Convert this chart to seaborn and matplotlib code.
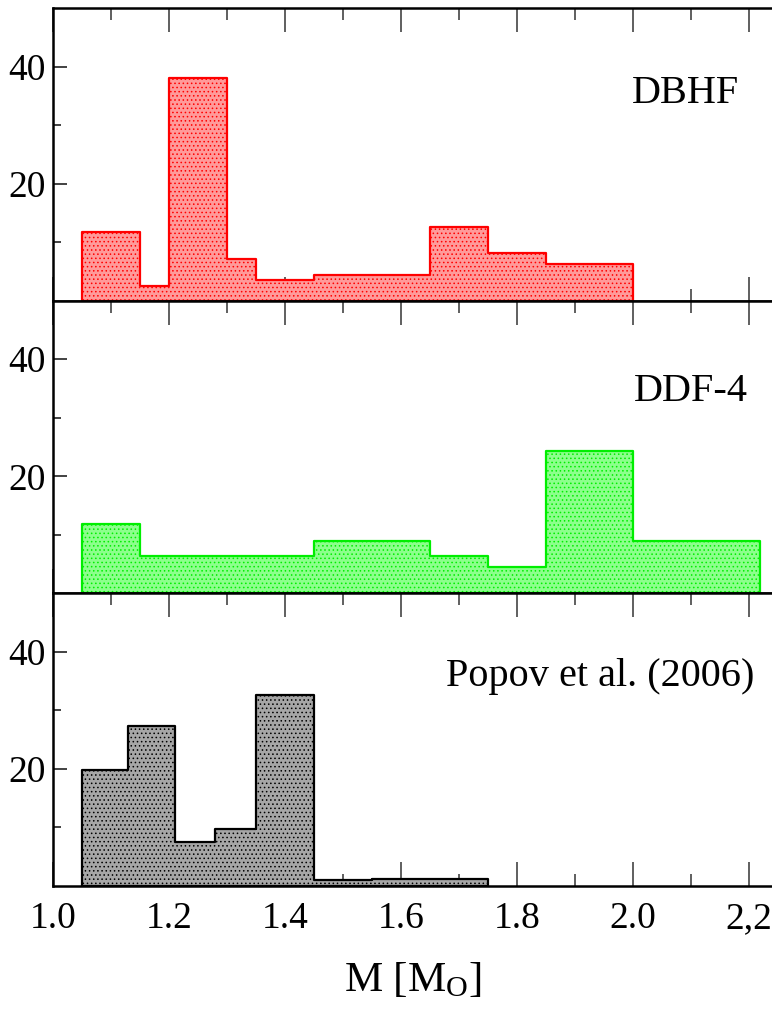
import numpy as np
import pandas as pd
import matplotlib
matplotlib.use("Agg")
import matplotlib.pyplot as plt
import seaborn as sns

# ---- data ----
edges_dbhf = [1.05, 1.15, 1.20, 1.30, 1.35, 1.45, 1.65, 1.75, 1.85, 2.00]
counts_dbhf = [11.7, 2.5, 38.0, 7.2, 3.5, 4.4, 12.6, 8.1, 6.3]

edges_ddf4 = [1.05, 1.15, 1.45, 1.65, 1.75, 1.85, 2.00, 2.22]
counts_ddf4 = [11.8, 6.3, 9.0, 6.3, 4.5, 24.4, 9.0]

edges_popov = [1.05, 1.13, 1.21, 1.28, 1.35, 1.45, 1.55, 1.65, 1.75]
counts_popov = [19.8, 27.4, 7.5, 9.7, 32.6, 1.0, 1.15, 1.2]

panel_labels = ["DBHF", "DDF-4", "Popov et al. (2006)"]
xtick_vals = [1.0, 1.2, 1.4, 1.6, 1.8, 2.0, 2.2]
xtick_labels = ["1.0", "1.2", "1.4", "1.6", "1.8", "2.0", "2,2"]
ytick_vals = [20, 40]
ytick_labels = ["20", "40"]

sns.set_style("ticks")
plt.rcParams["font.family"] = ["Liberation Serif", "DejaVu Serif"]
plt.rcParams["mathtext.fontset"] = "custom"
plt.rcParams["mathtext.rm"] = "Liberation Serif"
plt.rcParams["mathtext.it"] = "Liberation Serif"
plt.rcParams["hatch.linewidth"] = 0.6
plt.rcParams["text.color"] = "black"
plt.rcParams["axes.labelcolor"] = "black"
plt.rcParams["xtick.labelcolor"] = "black"
plt.rcParams["ytick.labelcolor"] = "black"

fig = plt.figure(figsize=(7.72, 10.17), dpi=100)
gs = fig.add_gridspec(3, 1, left=53 / 772, right=1.0, top=1 - 8 / 1017,
                      bottom=1 - 886 / 1017, hspace=0)
axes = [fig.add_subplot(gs[i]) for i in range(3)]

datasets = [
    (edges_dbhf, counts_dbhf, "#ff0000", "#ff9a9a"),
    (edges_ddf4, counts_ddf4, "#00ee00", "#8cff8c"),
    (edges_popov, counts_popov, "#000000", "#a6a6a6"),
]
label_pos = [(2.184, 33.8), (2.199, 32.9), (2.21, 34.1)]

for i, (ax, (edges, counts, ec, fc)) in enumerate(zip(axes, datasets)):
    e = np.asarray(edges, dtype=float)
    df = pd.DataFrame({"mass": (e[:-1] + e[1:]) / 2, "n": counts})
    sns.histplot(data=df, x="mass", weights="n", bins=list(edges),
                 element="step", fill=True,
                 facecolor=fc, edgecolor=ec, linewidth=1.6, alpha=1,
                 hatch="....", ax=ax)
    ax.set_xlim(1.0, 2.24)
    ax.set_ylim(0, 50)
    ax.set_xticks(xtick_vals)
    ax.set_xticks(np.arange(1.1, 2.25, 0.2), minor=True)
    ax.set_yticks(ytick_vals)
    ax.set_yticks([10, 30], minor=True)
    ax.set_yticklabels(ytick_labels, fontsize=27)
    ax.tick_params(axis="x", which="major", direction="in", length=17,
                   width=1.2, color="#444444", top=True, bottom=True, pad=11)
    ax.tick_params(axis="x", which="minor", direction="in", length=8.5,
                   width=1.2, color="#444444", top=True, bottom=True)
    ax.tick_params(axis="y", which="major", direction="in", length=10,
                   width=1.2, color="#222222", left=True, right=False, pad=5)
    ax.tick_params(axis="y", which="minor", direction="in", length=6,
                   width=1.2, color="#222222", left=True, right=False)
    if i < 2:
        ax.set_xticklabels([])
    else:
        ax.set_xticklabels(xtick_labels, fontsize=27)
    ax.set_ylabel("")
    ax.set_xlabel("")
    for s in ax.spines.values():
        s.set_linewidth(1.8)
        s.set_color("black")
    ax.spines["right"].set_visible(False)
    lx, ly = label_pos[i]
    ax.text(lx, ly, panel_labels[i], ha="right", va="baseline", fontsize=29,
            color="black")

axes[2].set_xlabel(r"M [M$_{\mathrm{O}}$]", fontsize=31, labelpad=18,
                   color="black")

fig.savefig("out.png", dpi=100)
